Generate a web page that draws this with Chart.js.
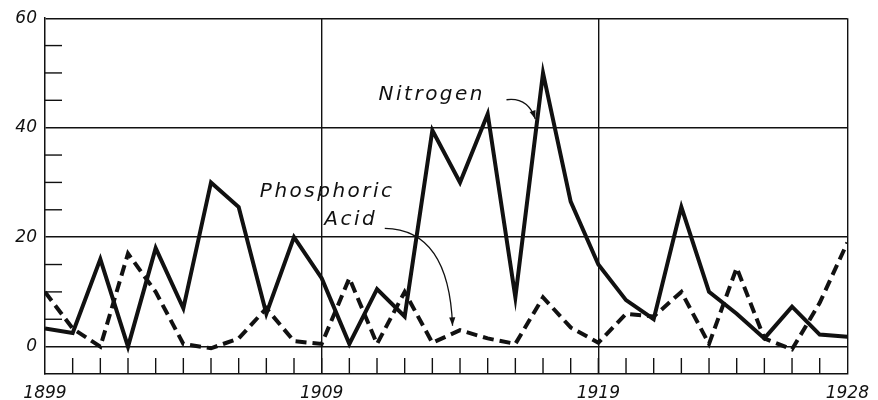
<!DOCTYPE html>
<html>
<head>
<meta charset="utf-8">
<script src="https://cdn.jsdelivr.net/npm/chart.js@4.4.1/dist/chart.umd.min.js"></script>
<style>
  html, body { margin: 0; padding: 0; background: #fff; }
  canvas { display: block; }
</style>
</head>
<body>
<canvas id="chart" width="878" height="400"></canvas>
<script>
// ── DATA ─────────────────────────────────────────────────────────────────────
const years = [1899, 1900, 1901, 1902, 1903, 1904, 1905, 1906, 1907, 1908,
               1909, 1910, 1911, 1912, 1913, 1914, 1915, 1916, 1917, 1918,
               1919, 1920, 1921, 1922, 1923, 1924, 1925, 1926, 1927, 1928];
const nitrogen = [3.3, 2.5, 16, 0, 18, 7, 30, 25.5, 6, 20,
                  12.5, 0.5, 10.5, 5.5, 39.5, 30, 42.5, 9, 50, 26.5,
                  15, 8.5, 5, 25.5, 10, 6, 1.5, 7.3, 2.2, 1.8];
const phosphoricAcid = [10, 3.3, 0, 17, 10, 0.5, -0.3, 1.5, 7, 1,
                        0.5, 12.5, 0.5, 10, 0.7, 3, 1.5, 0.5, 9, 3.5,
                        0.7, 6, 5.5, 10, 0.5, 14.4, 1.5, -0.5, 8, 19];
const xLabelYears = [1899, 1909, 1919, 1928];
const xGridYears = [1909, 1919, 1928];
const yLabelValues = [0, 20, 40, 60];

const INK = '#111';
const FONT = "'DejaVu Sans', sans-serif";

// ── DRAWING EXTRAS (minor ticks, labels, arrows) ─────────────────────────────
const extras = {
  id: 'extras',
  afterDatasetsDraw(chart) {
    const { ctx, chartArea: a, scales: { x, y } } = chart;
    ctx.save();
    ctx.strokeStyle = INK;
    ctx.lineWidth = 1.4;

    // year ticks in the strip under zero
    const bottom = y.getPixelForValue(-5);
    years.forEach(yr => {
      if (yr === years[0] || yr === years[years.length - 1]) return;
      const px = x.getPixelForValue(yr);
      ctx.beginPath();
      ctx.moveTo(px, bottom);
      ctx.lineTo(px, bottom - 16);
      ctx.stroke();
    });

    // minor ticks on the left axis
    for (let v = 5; v < 60; v += 5) {
      if (v % 20 === 0) continue;
      const py = y.getPixelForValue(v);
      ctx.beginPath();
      ctx.moveTo(a.left, py);
      ctx.lineTo(a.left + 17, py);
      ctx.stroke();
    }

    // hand lettered labels
    ctx.fillStyle = INK;
    ctx.font = 'italic 20px ' + FONT;
    ctx.textAlign = 'center';
    ctx.textBaseline = 'middle';
    ctx.letterSpacing = '2.5px';
    ctx.fillText('Nitrogen', x.getPixelForValue(1912.98), y.getPixelForValue(46));
    ctx.fillText('Phosphoric', x.getPixelForValue(1909.2), y.getPixelForValue(28.3));
    ctx.fillText('Acid', x.getPixelForValue(1910.05), y.getPixelForValue(23.2));
    ctx.letterSpacing = '0px';

    // arrows
    const arrow = (p0, c, p1) => {
      const sx = x.getPixelForValue(p0[0]), sy = y.getPixelForValue(p0[1]);
      const cx = x.getPixelForValue(c[0]), cy = y.getPixelForValue(c[1]);
      const ex = x.getPixelForValue(p1[0]), ey = y.getPixelForValue(p1[1]);
      ctx.lineWidth = 1.3;
      ctx.beginPath();
      ctx.moveTo(sx, sy);
      ctx.quadraticCurveTo(cx, cy, ex, ey);
      ctx.stroke();
      const ang = Math.atan2(ey - cy, ex - cx);
      ctx.beginPath();
      ctx.moveTo(ex, ey);
      ctx.lineTo(ex - 9 * Math.cos(ang - 0.35), ey - 9 * Math.sin(ang - 0.35));
      ctx.lineTo(ex - 9 * Math.cos(ang + 0.35), ey - 9 * Math.sin(ang + 0.35));
      ctx.closePath();
      ctx.fill();
    };
    arrow([1915.68, 45.1], [1916.45, 45.6], [1916.72, 41.6]);
    arrow([1911.28, 21.6], [1913.6, 21.4], [1913.73, 3.8]);

    ctx.restore();
  }
};

new Chart(document.getElementById('chart').getContext('2d'), {
  type: 'line',
  data: {
    datasets: [
      {
        label: 'Nitrogen',
        data: years.map((yr, i) => ({ x: yr, y: nitrogen[i] })),
        borderColor: INK, borderWidth: 4, pointRadius: 0, tension: 0,
        borderJoinStyle: 'miter'
      },
      {
        label: 'Phosphoric Acid',
        data: years.map((yr, i) => ({ x: yr, y: phosphoricAcid[i] })),
        borderColor: INK, borderWidth: 4, pointRadius: 0, tension: 0,
        borderDash: [11, 6]
      }
    ]
  },
  options: {
    responsive: false,
    animation: false,
    layout: { padding: { top: 15, right: 30, left: 0, bottom: 0 } },
    plugins: { legend: { display: false }, tooltip: { enabled: false } },
    scales: {
      x: {
        type: 'linear', min: 1899, max: 1928,
        afterFit: s => { s.height = 26; },
        border: { color: INK, width: 1.5 },
        grid: {
          drawTicks: false, lineWidth: 1.4,
          color: c => xGridYears.includes(c.tick.value) ? INK : 'transparent'
        },
        ticks: {
          stepSize: 1, autoSkip: false, maxRotation: 0, padding: 9,
          color: INK, font: { family: FONT, style: 'italic', size: 17 },
          callback: v => xLabelYears.includes(v) ? String(v) : ''
        }
      },
      y: {
        min: -5, max: 60,
        afterFit: s => { s.width = 45; },
        border: { color: INK, width: 1.5 },
        grid: {
          drawTicks: false, lineWidth: 1.4,
          color: c => yLabelValues.includes(c.tick.value) ? INK : 'transparent'
        },
        ticks: {
          stepSize: 5, autoSkip: false, padding: 8,
          color: INK, font: { family: FONT, style: 'italic', size: 17 },
          callback: v => yLabelValues.includes(v) ? String(v) : ''
        }
      }
    }
  },
  plugins: [extras]
});
</script>
</body>
</html>
